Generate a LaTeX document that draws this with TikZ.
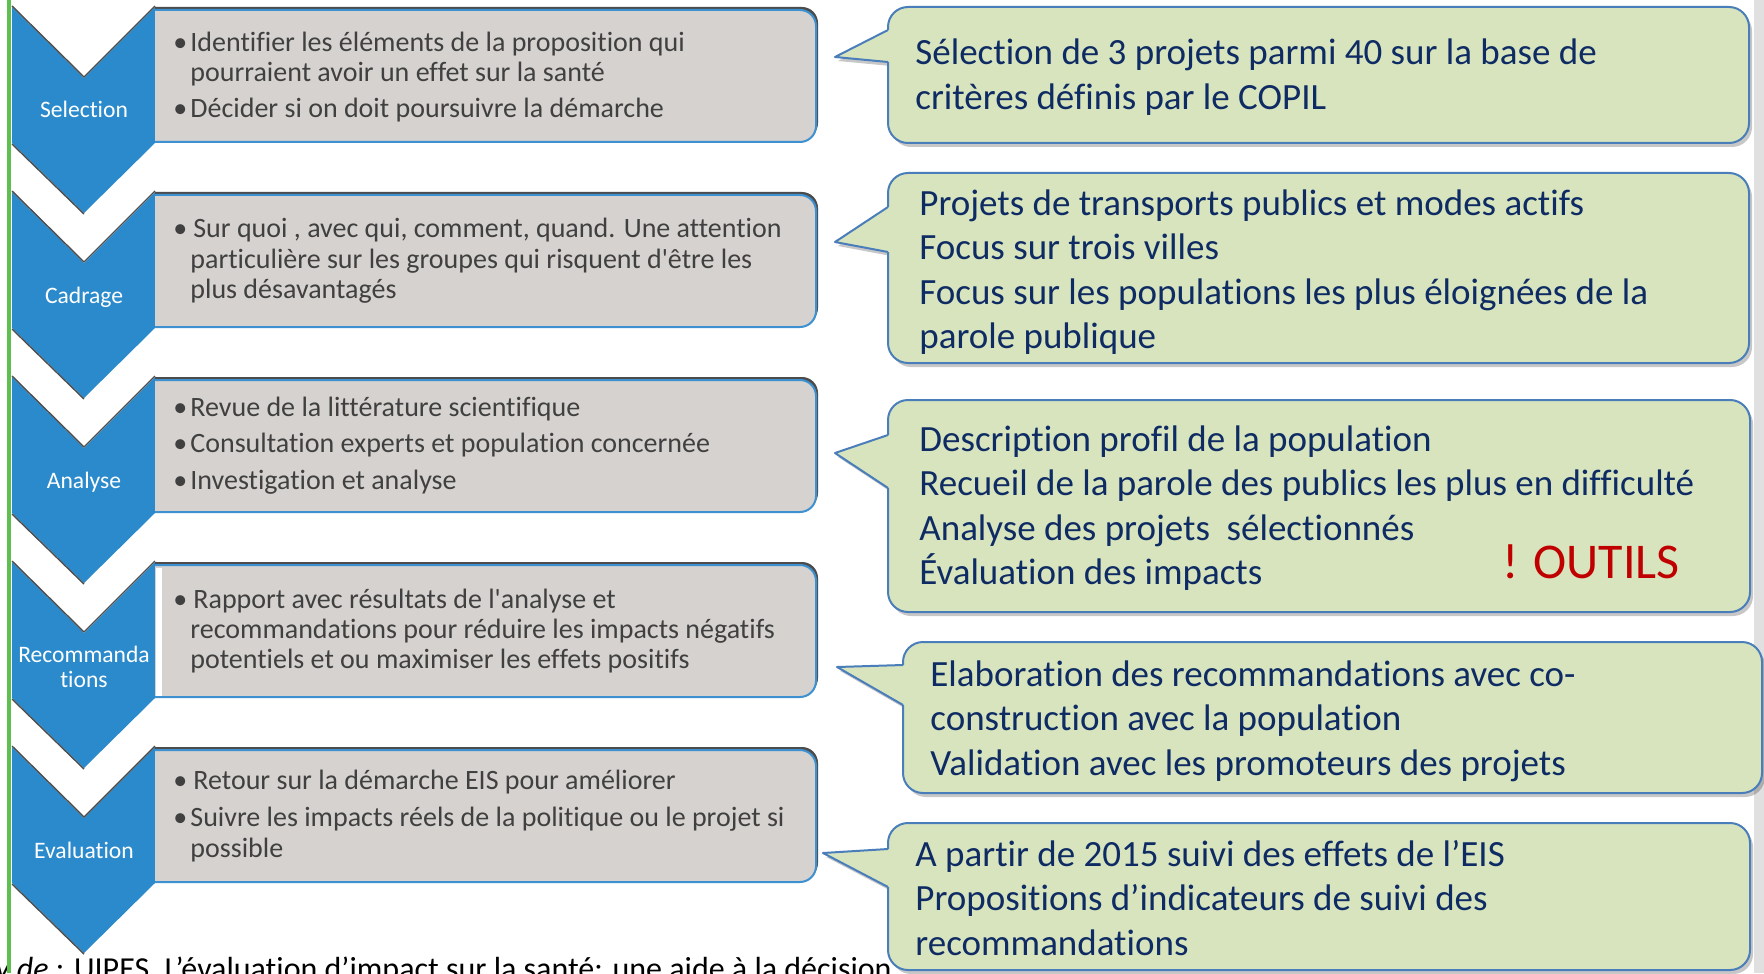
\documentclass[tikz,border=0pt]{standalone}
\usepackage{fontspec}
\setmainfont{Carlito}[Ligatures={TeX,NoCommon}]
\definecolor{chevblue}{HTML}{2B8ACB}
\definecolor{boxgray}{HTML}{D5D2CF}
\definecolor{boxblue}{HTML}{3D91D0}
\definecolor{gtxt}{HTML}{404040}
\definecolor{cogreen}{HTML}{D7E4BD}
\definecolor{coblue}{HTML}{4A7EBB}
\definecolor{navy}{HTML}{0E2B63}
\definecolor{outred}{HTML}{C00000}
\definecolor{frameg}{HTML}{5CBF4E}
\tikzset{
  chev/.style={fill=chevblue},
  chevedge/.style={draw=black!70, line width=0.7pt},
  boxshadow/.style={fill=black!70},
  graybox/.style={fill=boxgray, draw=boxblue, line width=1pt},
  gtext/.style={text=gtxt, font=\fontsize{14}{15}\selectfont, inner sep=0pt, anchor=base west},
  ctext/.style={text=navy, font=\fontsize{18.5}{22}\selectfont, inner sep=0pt, anchor=base west},
  clab/.style={text=white, font=\fontsize{11.8}{12.5}\selectfont, inner sep=0pt, anchor=base},
  captext/.style={text=black, font=\fontsize{16}{19}\selectfont, inner sep=0pt, anchor=base west},
  redtext/.style={text=outred, font=\fontsize{25}{29}\selectfont, inner sep=0pt, anchor=base west},
  cofill/.style={fill=cogreen},
  coline/.style={draw=coblue, line width=1pt, line join=round},
  coshadow/.style={fill=black, opacity=0.22},
}
\newcommand\mycallout[9]{%
  \fill[coshadow,rounded corners=10pt] (#2+3,#3+4) rectangle (#4+3,#5+4);
  \fill[coshadow] (#2+3,#6+4) -- (#7+3,#8+4) -- (#2+3,#9+4) -- cycle;
  \fill[cofill,rounded corners=10pt] (#2,#3) rectangle (#4,#5);
  \fill[cofill] (#2+2,#6) -- (#7,#8) -- (#2+2,#9) -- cycle;
  \draw[coline,rounded corners=10pt] (#2,#6) -- (#2,#3) -- (#4,#3) -- (#4,#5) -- (#2,#5) -- (#2,#9);
  \draw[coline] (#2,#6) -- (#7,#8) -- (#2,#9);
  \coordinate (#1) at (#2,#3);
}
\newcommand\bul[1]{\makebox[#1][l]{\textbullet}}
\begin{document}
\begin{tikzpicture}[x=0.5pt,y=-0.5pt]
\useasboundingbox (0,0) rectangle (1764,973);
\fill[white] (0,0) rectangle (1764,973);
\fill[black!12] (1754,0) rectangle (1764,973);
% caption
\begin{scope}
\clip (0,0) rectangle (1764,973);
\node[captext] (cap) at (-5,979) {\textit{y de} : UIPES. L’évaluation d’impact sur la santé: une aide à la décision};
\end{scope}
% green frame line
\draw[frameg, line width=2pt] (9,0) -- (9,973);
% chevrons
\foreach \k in {0,...,4}{
  \fill[chev] (12,7+185*\k) -- (84,78+185*\k) -- (155,7+185*\k) -- (155,143+185*\k) -- (84,213+185*\k) -- (12,143+185*\k) -- cycle;
  \draw[chevedge] (12,6+185*\k) -- (84,77+185*\k) -- (155,6+185*\k);
  \draw[chevedge] (12,144+185*\k) -- (84,214+185*\k);
}
% gray boxes
\begin{scope}
\clip (155,0) rectangle (900,973);
\foreach \k in {0,...,4}{
  \fill[boxshadow, rounded corners=8pt] (122,7+185*\k) rectangle (818,139+185*\k);
  \draw[graybox, rounded corners=8pt] (120,10+185*\k) rectangle (816,142+185*\k);
}
\end{scope}
\fill[white] (156,568) rectangle (162,696);
% chevron labels
\node[clab] (l1) at (84,118) {Selection};
\node[clab] (l2) at (84,303) {Cadrage};
\node[clab] (l3) at (84,488) {Analyse};
\node[clab] (l4a) at (84,662) {Recommanda};
\node[clab] (l4b) at (84,687) {tions};
\node[clab] (l5) at (84,858) {Evaluation};
% gray box texts
\node[gtext] (g1a) at (173,52) {\bul{8.5pt}Identifier les éléments de la proposition qui};
\node[gtext] (g1b) at (190,82) {pourraient avoir un effet sur la santé};
\node[gtext] (g1c) at (173,118) {\bul{8.5pt}Décider si on doit poursuivre la démarche};
\node[gtext] (g2a) at (173,237) {\bul{10pt}Sur quoi , avec qui, comment, quand. Une attention};
\node[gtext] (g2b) at (190,268) {particulière sur les groupes qui risquent d\textquotesingle être les};
\node[gtext] (g2c) at (190,298) {plus désavantagés};
\node[gtext] (g3a) at (173,416) {\bul{8.5pt}Revue de la littérature scientifique};
\node[gtext] (g3b) at (173,452) {\bul{8.5pt}Consultation experts et population concernée};
\node[gtext] (g3c) at (173,489) {\bul{8.5pt}Investigation et analyse};
\node[gtext] (g4a) at (173,608) {\bul{10pt}Rapport avec résultats de l\textquotesingle analyse et};
\node[gtext] (g4b) at (190,638) {recommandations pour réduire les impacts négatifs};
\node[gtext] (g4c) at (190,668) {potentiels et ou maximiser les effets positifs};
\node[gtext] (g5a) at (173,789) {\bul{10pt}Retour sur la démarche EIS pour améliorer};
\node[gtext] (g5b) at (173,826) {\bul{8.5pt}Suivre les impacts réels de la politique ou le projet si};
\node[gtext] (g5c) at (190,857) {possible};
% callouts
\mycallout{co1}{888}{7}{1749}{143}{30}{835}{57}{62}
\mycallout{co2}{888}{173}{1749}{363}{207}{835}{242}{252}
\mycallout{co3}{888}{400}{1750}{612}{435}{835}{453}{488}
\mycallout{co4}{903}{642}{1762}{793}{665}{837}{667}{705}
\mycallout{co5}{888}{823}{1750}{970}{849}{823}{853}{887}
% callout texts
\node[ctext] (t1a) at (915,65) {Sélection de 3 projets parmi 40 sur la base de};
\node[ctext] (t1b) at (915,109.5) {critères définis par le COPIL};
\node[ctext] (t2a) at (919,215) {Projets de transports publics et modes actifs};
\node[ctext] (t2b) at (919,259.5) {Focus sur trois villes};
\node[ctext] (t2c) at (919,304) {Focus sur les populations les plus éloignées de la};
\node[ctext] (t2d) at (919,348.5) {parole publique};
\node[ctext] (t3a) at (919,451) {Description profil de la population};
\node[ctext] (t3b) at (919,495.5) {Recueil de la parole des publics les plus en difficulté};
\node[ctext] (t3c) at (919,540) {Analyse des projets\ \ sélectionnés};
\node[ctext] (t3d) at (919,584.5) {Évaluation des impacts};
\node[redtext] (t3e) at (1502,578) {! OUTILS};
\node[ctext] (t4a) at (930,686) {Elaboration des recommandations avec co-};
\node[ctext] (t4b) at (930,730.5) {construction avec la population};
\node[ctext] (t4c) at (930,775) {Validation avec les promoteurs des projets};
\node[ctext] (t5a) at (915,866) {A partir de 2015 suivi des effets de l’EIS};
\node[ctext] (t5b) at (915,910.5) {Propositions d’indicateurs de suivi des};
\node[ctext] (t5c) at (915,955) {recommandations};
\end{tikzpicture}
\end{document}
